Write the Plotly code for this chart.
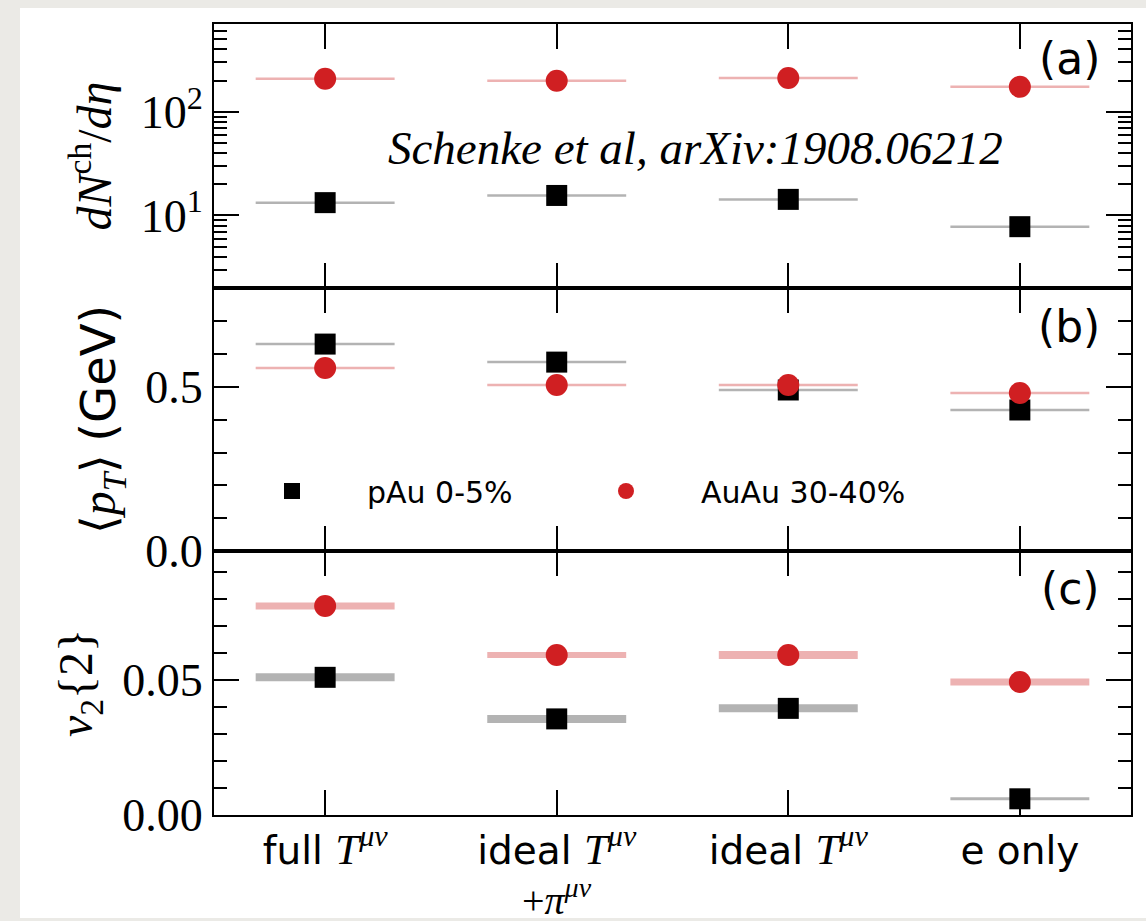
import plotly.graph_objects as go

# ---------------- data ----------------
categories = ["full T", "ideal T + pi", "ideal T", "e only"]
MS = "<span style='font-family:Liberation Serif;font-size:43px'>"
tick_labels = [
    "full " + MS + "<i>T</i><sup><i>μν</i></sup></span>",
    "ideal " + MS + "<i>T</i><sup><i>μν</i></sup></span>",
    "ideal " + MS + "<i>T</i><sup><i>μν</i></sup></span>",
    "e only",
]
tick_label_line2 = ["", "+<i>π</i><sup><i>μν</i></sup>", "", ""]
series_names = ["pAu 0-5%", "AuAu 30-40%"]

dndeta_pAu = [13.3, 15.6, 14.3, 7.8]
dndeta_AuAu = [208, 199, 212, 174]
meanpt_pAu = [0.631, 0.576, 0.491, 0.430]
meanpt_AuAu = [0.558, 0.506, 0.506, 0.482]
v2_pAu = [0.0510, 0.0356, 0.0395, 0.0060]
v2_AuAu = [0.0774, 0.0593, 0.0593, 0.0493]

# ---------------- style ----------------
W, H = 1146, 921
ML, MR, MT, MB = 214, 15, 24, 106
PW, PH = W - ML - MR, H - MT - MB
RED, BLACK = "#d01f22", "#000000"
RED_BAND, GRAY_BAND = "rgba(234,165,165,0.85)", "rgba(160,160,160,0.8)"
HALF_W = 0.3
thin_px = 2.5
v2_band_px_pAu = [8, 8, 8, 3]
v2_band_px_AuAu = [7, 6, 8, 7]
SERIF = "Liberation Serif"
SANS = "DejaVu Sans"


def px_x(p):
    return (p - ML) / PW


def px_y(p):
    return (MT + PH - p) / PH


xs = list(range(len(categories)))
fig = go.Figure()

panels = [
    ("y", dndeta_pAu, dndeta_AuAu, [thin_px] * 4, [thin_px] * 4),
    ("y2", meanpt_pAu, meanpt_AuAu, [thin_px] * 4, [thin_px] * 4),
    ("y3", v2_pAu, v2_AuAu, v2_band_px_pAu, v2_band_px_AuAu),
]
xaxis_of = {"y": "x", "y2": "x2", "y3": "x3"}

for yref, vb, vr, tb, tr in panels:
    # horizontal bands
    for vals, thick, col in [(vb, tb, GRAY_BAND), (vr, tr, RED_BAND)]:
        for i, v in enumerate(vals):
            fig.add_trace(go.Scatter(
                x=[xs[i] - HALF_W, xs[i] + HALF_W], y=[v, v], mode="lines",
                line=dict(color=col, width=thick[i]), showlegend=False,
                hoverinfo="skip", xaxis=xaxis_of[yref], yaxis=yref))
    # markers
    fig.add_trace(go.Scatter(
        x=xs, y=vb, mode="markers", name=series_names[0],
        marker=dict(symbol="square", size=21, color=BLACK),
        showlegend=(yref == "y2"), legend="legend",
        xaxis=xaxis_of[yref], yaxis=yref))
    fig.add_trace(go.Scatter(
        x=xs, y=vr, mode="markers", name=series_names[1],
        marker=dict(symbol="circle", size=22, color=RED),
        showlegend=(yref == "y2"), legend="legend2",
        xaxis=xaxis_of[yref], yaxis=yref))

dom_c = [0, 264 / PH]
dom_b = [264 / PH, 527 / PH]
dom_a = [527 / PH, 1]

common_x = dict(range=[-0.48, 3.48], tickmode="array", tickvals=xs,
                ticks="inside", ticklen=25, tickwidth=2, tickcolor="black",
                showline=True, linewidth=2, linecolor="black", mirror="ticks",
                showgrid=False, zeroline=False, automargin=False)
common_y = dict(ticks="inside", ticklen=25, tickwidth=2, tickcolor="black",
                showline=True, linewidth=2, linecolor="black", mirror="ticks",
                showgrid=False, zeroline=False, automargin=False,
                tickfont=dict(family=SERIF, size=46, color="black"),
                title_font=dict(family=SERIF, size=48, color="black"),
                title_standoff=14)

log_minor = [3, 4, 5, 6, 7, 8, 9, 20, 30, 40, 50, 60, 70, 80, 90,
             200, 300, 400, 500, 600, 700]

legend_common = dict(xanchor="left", yanchor="middle", bgcolor="rgba(0,0,0,0)",
                     font=dict(family=SANS, size=30, color="black"),
                     itemwidth=140, y=px_y(491))

fig.update_layout(
    width=W, height=H,
    margin=dict(l=ML, r=MR, t=MT, b=MB, autoexpand=False),
    paper_bgcolor="#ebeae6", plot_bgcolor="white",
    font=dict(family=SANS, color="black"),
    xaxis=dict(**common_x, domain=[0, 1], anchor="y", showticklabels=False),
    xaxis2=dict(**common_x, domain=[0, 1], anchor="y2", showticklabels=False),
    xaxis3=dict(**common_x, domain=[0, 1], anchor="y3", ticktext=tick_labels,
                tickfont=dict(family=SANS, size=39, color="black")),
    yaxis=dict(**common_y, domain=dom_a, anchor="x", type="log",
               range=[0.301, 2.846], tickmode="array", tickvals=[10, 100],
               ticktext=["10<sup>1</sup>", "10<sup>2</sup>"],
               minor=dict(ticks="inside", ticklen=13, tickwidth=2,
                          tickcolor="black", tickmode="array",
                          tickvals=log_minor),
               title_text="<i>dN</i><sup>ch</sup>/<i>dη</i>"),
    yaxis2=dict(**common_y, domain=dom_b, anchor="x2", range=[0, 0.802],
                tickmode="array", tickvals=[0, 0.5], ticktext=["0.0", "0.5"],
                minor=dict(ticks="inside", ticklen=13, tickwidth=2,
                           tickcolor="black", dtick=0.1, tick0=0),
                title_text="⟨<i>p</i><sub><i>T</i></sub>⟩ "
                           "<span style='font-family:DejaVu Sans'>(GeV)</span>"),
    yaxis3=dict(**common_y, domain=dom_c, anchor="x3", range=[0, 0.0978],
                tickmode="array", tickvals=[0, 0.05], ticktext=["0.00", "0.05"],
                minor=dict(ticks="inside", ticklen=13, tickwidth=2,
                           tickcolor="black", dtick=0.01, tick0=0),
                title_text="<i>v</i><sub>2</sub>{2}"),
    legend=dict(**legend_common, x=px_x(217)),
    legend2=dict(**legend_common, x=px_x(551)),
    showlegend=True,
)

# white sheet behind chart
fig.add_shape(type="rect", xref="paper", yref="paper", layer="below",
              x0=px_x(20), x1=px_x(W + 5), y0=px_y(918), y1=px_y(8),
              fillcolor="white", line=dict(width=0))

# second line of the category labels
for i, t in enumerate(tick_label_line2):
    if t:
        fig.add_annotation(text=t, xref="x3", yref="paper", x=xs[i],
                           y=px_y(897), xanchor="center", yanchor="middle",
                           showarrow=False,
                           font=dict(family=SERIF, size=40, color="black"))

for lbl, cy in [("(a)", 58), ("(b)", 326), ("(c)", 588)]:
    fig.add_annotation(text=lbl, xref="paper", yref="paper", x=px_x(1102),
                       y=px_y(cy), xanchor="right", yanchor="middle",
                       showarrow=False,
                       font=dict(family=SANS, size=44, color="black"))

fig.add_annotation(text="<i>Schenke et al, arXiv:1908.06212</i>",
                   xref="paper", yref="paper", x=px_x(695), y=px_y(148),
                   xanchor="center", yanchor="middle", showarrow=False,
                   font=dict(family=SERIF, size=47, color="black"))

fig.write_html("out.html", config={"displayModeBar": False},
               post_script="document.body.style.margin='0';")
